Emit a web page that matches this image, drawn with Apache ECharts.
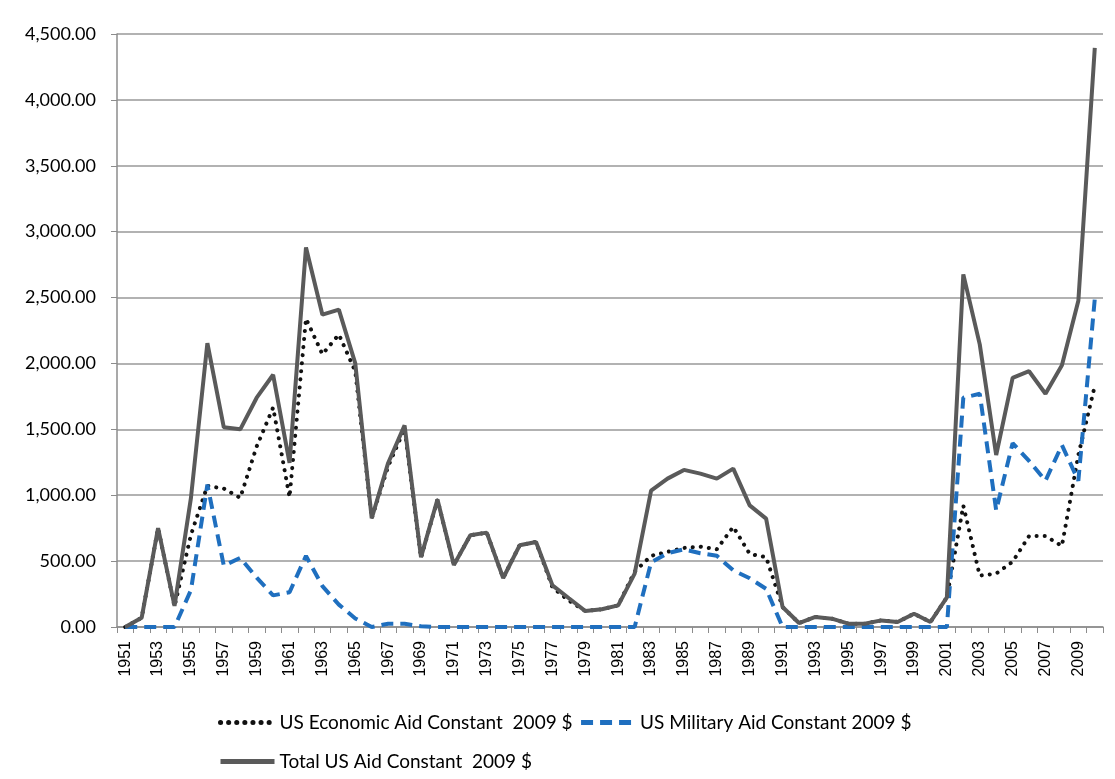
<!DOCTYPE html>
<html>
<head>
<meta charset="utf-8">
<script src="https://cdn.jsdelivr.net/npm/echarts@6/dist/echarts.min.js"></script>
<style>
    html, body { margin: 0; padding: 0; background: #fff; }
    #aid-chart { width: 1115px; height: 779px; }
</style>
</head>
<body>
<div id="aid-chart"></div>
<script>
// years 1951 - 2010
var years = [];
for (var y = 1951; y <= 2010; y++) {
    years.push(String(y));
}

var economicAid = [
    0, 70, 750, 156, 700, 1071, 1050, 980, 1370, 1665,
    985, 2340, 2070, 2220, 1940, 825, 1220, 1505, 525, 966,
    471, 696, 716, 372, 620, 645, 300, 200, 121, 135,
    164, 420, 540, 570, 600, 610, 590, 760, 555, 530,
    152, 30, 76, 63, 25, 25, 50, 38, 101, 38,
    225, 921, 390, 405, 495, 690, 690, 615, 1305, 1830
];

var militaryAid = [
    0, 0, 0, 0, 280, 1080, 465, 525, 375, 240,
    264, 540, 310, 170, 65, 0, 25, 25, 5, 0,
    0, 0, 0, 0, 0, 0, 0, 0, 0, 0,
    0, 0, 490, 560, 590, 560, 540, 430, 370, 290,
    0, 0, 0, 0, 0, 0, 0, 0, 0, 0,
    0, 1740, 1770, 885, 1395, 1260, 1110, 1380, 1110, 2490
];

var totalAid = [
    0, 70, 750, 160, 980, 2154, 1515, 1500, 1740, 1914,
    1245, 2880, 2370, 2409, 2000, 825, 1245, 1530, 530, 968,
    470, 696, 716, 372, 620, 645, 316, 218, 121, 135,
    164, 405, 1035, 1126, 1192, 1164, 1126, 1202, 923, 822,
    152, 30, 76, 63, 25, 25, 50, 38, 101, 38,
    225, 2676, 2145, 1305, 1890, 1941, 1770, 1986, 2475, 4395
];

var seriesNames = [
    'US Economic Aid Constant  2009 $',
    'US Military Aid Constant 2009 $',
    'Total US Aid Constant  2009 $'
];

var aidChart = echarts.init(document.getElementById('aid-chart'));

function fmtNumber(v) {
    return v.toLocaleString('en-US', { minimumFractionDigits: 2, maximumFractionDigits: 2 });
}

var legendText = {
    fontFamily: 'Lato',
    fontSize: 19,
    color: '#000'
};

var option = {
    animation: false,
    backgroundColor: '#fff',
    grid: {
        left: 117,
        right: 12,
        top: 34,
        bottom: 152
    },
    legend: [{
        left: 213,
        top: 708,
        itemWidth: 54,
        itemHeight: 14,
        itemGap: 6,
        itemStyle: { opacity: 0 },
        lineStyle: { width: 5 },
        textStyle: legendText,
        data: [seriesNames[0], seriesNames[1]]
    }, {
        left: 213,
        top: 747,
        itemWidth: 54,
        itemHeight: 14,
        itemStyle: { opacity: 0 },
        lineStyle: { width: 5 },
        textStyle: legendText,
        data: [seriesNames[2]]
    }],
    xAxis: {
        type: 'category',
        data: years,
        boundaryGap: true,
        axisLine: { lineStyle: { color: '#8c8c8c', width: 1.5 } },
        axisTick: { show: true, interval: 0, length: 6, lineStyle: { color: '#8c8c8c' } },
        axisLabel: {
            interval: 1,
            rotate: 90,
            margin: 14,
            fontFamily: 'Liberation Sans',
            fontSize: 16,
            color: '#000'
        },
        splitLine: { show: false }
    },
    yAxis: {
        type: 'value',
        min: 0,
        max: 4500,
        interval: 500,
        axisLine: { show: true, lineStyle: { color: '#8c8c8c', width: 1.5 } },
        axisTick: { show: true, length: 6, lineStyle: { color: '#8c8c8c' } },
        axisLabel: {
            margin: 21,
            fontFamily: 'Lato',
            fontSize: 18,
            color: '#000',
            formatter: fmtNumber
        },
        splitLine: { lineStyle: { color: '#999', width: 1.5 } }
    },
    series: [{
        name: seriesNames[0],
        type: 'line',
        data: economicAid,
        symbol: 'none',
        color: '#111',
        lineStyle: { color: '#111', width: 4, type: [0.1, 8], cap: 'round' }
    }, {
        name: seriesNames[1],
        type: 'line',
        data: militaryAid,
        symbol: 'none',
        color: '#1f6fbf',
        lineStyle: { color: '#1f6fbf', width: 4, type: [12, 7] }
    }, {
        name: seriesNames[2],
        type: 'line',
        data: totalAid,
        symbol: 'none',
        color: '#5a5a5a',
        lineStyle: { color: '#5a5a5a', width: 4 }
    }]
};

aidChart.setOption(option);
</script>
</body>
</html>
